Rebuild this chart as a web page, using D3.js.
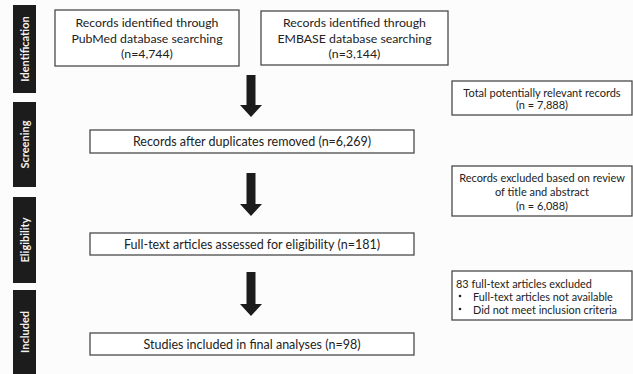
<!DOCTYPE html>
<html>
<head>
<meta charset="utf-8">
<script src="https://cdn.jsdelivr.net/npm/d3@7"></script>
<style>
  body { margin: 0; background: #fff; }
  text { font-family: Lato, "Open Sans", sans-serif; fill: #222; }
  .stage-label { fill: #f2f2f2; font-weight: bold; font-size: 11px; }
</style>
</head>
<body>
<div id="wrapper"></div>
<script>
// data
const stages = ["Identification", "Screening", "Eligibility", "Included"]
const pubmedCount = 4744
const embaseCount = 3144
const totalCount = 7888
const afterDupCount = 6269
const excludedAbstractCount = 6088
const fullTextCount = 181
const excludedFullTextCount = 83
const includedCount = 98
const exclusionReasons = ["Full-text articles not available", "Did not meet inclusion criteria"]

const fmt = d3.format(",")

function drawFlow() {
    const width = 633
    const height = 374

    const svg = d3.select("#wrapper")
        .append("svg")
        .attr("width", width)
        .attr("height", height)

    svg.append("rect")
        .attr("width", width)
        .attr("height", height)
        .attr("fill", "#fcfcfc")

    // stage bars on the left
    const stageTops = [5, 102, 197, 290]
    const stageBottoms = [93, 187, 283, 374]
    const barX = 13, barW = 23

    const stageG = svg.append("g").selectAll("g")
        .data(stages)
        .join("g")

    stageG.append("rect")
        .attr("x", barX)
        .attr("y", (d, i) => stageTops[i])
        .attr("width", barW)
        .attr("height", (d, i) => stageBottoms[i] - stageTops[i])
        .attr("fill", "#1c1c1c")

    stageG.append("text")
        .attr("class", "stage-label")
        .attr("text-anchor", "middle")
        .attr("dominant-baseline", "central")
        .attr("transform", (d, i) => `translate(${barX + barW / 2},${(stageTops[i] + stageBottoms[i]) / 2}) rotate(-90)`)
        .text(d => d)

    // main boxes
    const boxes = [
        { x: 55, y: 10, w: 184, h: 56, size: 12.3, lh: 15.5,
          lines: ["Records identified through", "PubMed database searching", `(n=${fmt(pubmedCount)})`] },
        { x: 261, y: 11, w: 187, h: 54, size: 12.3, lh: 15.5,
          lines: ["Records identified through", "EMBASE database searching", `(n=${fmt(embaseCount)})`] },
        { x: 90, y: 130, w: 324, h: 23, size: 12.5, lh: 14,
          lines: [`Records after duplicates removed (n=${fmt(afterDupCount)})`] },
        { x: 90, y: 233, w: 324, h: 22, size: 12.5, lh: 14,
          lines: [`Full-text articles assessed for eligibility (n=${fmt(fullTextCount)})`] },
        { x: 90, y: 333, w: 324, h: 22, size: 12.5, lh: 14,
          lines: [`Studies included in final analyses (n=${fmt(includedCount)})`] },
        { x: 452, y: 81, w: 180, h: 34, size: 11, lh: 12,
          lines: ["Total potentially relevant records", `(n = ${fmt(totalCount)})`] },
        { x: 452, y: 166, w: 180, h: 50, size: 11, lh: 14,
          lines: ["Records excluded based on review", "of title and abstract", `(n = ${fmt(excludedAbstractCount)})`] },
    ]

    const boxG = svg.append("g").selectAll("g")
        .data(boxes)
        .join("g")

    boxG.append("rect")
        .attr("x", d => d.x)
        .attr("y", d => d.y)
        .attr("width", d => d.w)
        .attr("height", d => d.h)
        .attr("fill", "#fff")
        .attr("stroke", "#4a4a4a")
        .attr("stroke-width", 1.3)

    boxG.each(function(d) {
        const n = d.lines.length
        const cy = d.y + d.h / 2
        d3.select(this).selectAll("text")
            .data(d.lines)
            .join("text")
            .attr("x", d.x + d.w / 2)
            .attr("y", (l, i) => cy + (i - (n - 1) / 2) * d.lh)
            .attr("text-anchor", "middle")
            .attr("dominant-baseline", "central")
            .style("font-size", d.size + "px")
            .text(l => l)
    })

    // bullet box
    const bx = 452, by = 271, bw = 180, bh = 49
    const bullet = svg.append("g")
    bullet.append("rect")
        .attr("x", bx).attr("y", by)
        .attr("width", bw).attr("height", bh)
        .attr("fill", "#fff")
        .attr("stroke", "#4a4a4a")
        .attr("stroke-width", 1.3)
    bullet.append("text")
        .attr("x", bx + 4)
        .attr("y", by + 12)
        .attr("dominant-baseline", "central")
        .style("font-size", "10.9px")
        .text(`${excludedFullTextCount} full-text articles excluded`)
    bullet.selectAll(".reason")
        .data(exclusionReasons)
        .join("text")
        .attr("class", "reason")
        .attr("x", bx + 21)
        .attr("y", (d, i) => by + 25 + i * 13)
        .attr("dominant-baseline", "central")
        .style("font-size", "10.9px")
        .text(d => d)
    bullet.selectAll(".dot")
        .data(exclusionReasons)
        .join("circle")
        .attr("class", "dot")
        .attr("cx", bx + 8)
        .attr("cy", (d, i) => by + 25 + i * 13)
        .attr("r", 1.3)
        .attr("fill", "#222")

    // arrows
    const arrows = [[75, 117], [173, 216], [272, 316]]
    const ax = 251, shaftW = 9, headW = 22, headH = 12
    svg.append("g").selectAll("path")
        .data(arrows)
        .join("path")
        .attr("d", d => {
            const [y0, y1] = d
            const hy = y1 - headH
            return `M${ax - shaftW / 2},${y0} L${ax + shaftW / 2},${y0} L${ax + shaftW / 2},${hy}
                    L${ax + headW / 2},${hy} L${ax},${y1} L${ax - headW / 2},${hy}
                    L${ax - shaftW / 2},${hy} Z`
        })
        .attr("fill", "#1c1c1c")
}

drawFlow()
</script>
</body>
</html>
